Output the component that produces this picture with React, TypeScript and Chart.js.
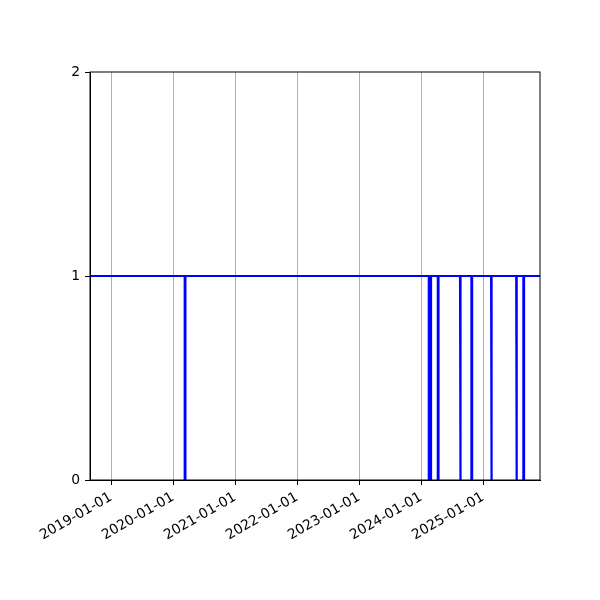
import React, { useEffect, useRef } from "react";
import { Chart, registerables } from "chart.js";

Chart.register(...registerables);

// axis range and yearly ticks
const xStart = "2018-08-30";
const xEnd = "2025-12-02";
const yearTicks = [
  "2019-01-01",
  "2020-01-01",
  "2021-01-01",
  "2022-01-01",
  "2023-01-01",
  "2024-01-01",
  "2025-01-01",
];
const yTicks = [0, 1, 2];

// periods where the status drops from 1 to 0
const dipStarts = [
  "2020-03-10",
  "2024-02-16",
  "2024-04-09",
  "2024-08-18",
  "2024-10-24",
  "2025-02-17",
  "2025-07-15",
  "2025-08-26",
];
const dipEnds = [
  "2020-03-14",
  "2024-02-29",
  "2024-04-13",
  "2024-08-22",
  "2024-10-28",
  "2025-02-21",
  "2025-07-19",
  "2025-08-30",
];
const upValue = 1;
const downValue = 0;

const ts = (s: string) => {
  const [y, m, d] = s.split("-").map(Number);
  return Date.UTC(y, m - 1, d);
};

const fmt = (v: number) => {
  const d = new Date(v);
  const p = (n: number) => String(n).padStart(2, "0");
  return `${d.getUTCFullYear()}-${p(d.getUTCMonth() + 1)}-${p(d.getUTCDate())}`;
};

const buildPoints = () => {
  const pts: { x: number; y: number }[] = [{ x: ts(xStart), y: upValue }];
  dipStarts.forEach((s, i) => {
    pts.push({ x: ts(s), y: upValue });
    pts.push({ x: ts(s), y: downValue });
    pts.push({ x: ts(dipEnds[i]), y: downValue });
    pts.push({ x: ts(dipEnds[i]), y: upValue });
  });
  pts.push({ x: ts(xEnd), y: upValue });
  return pts;
};

const frame = {
  id: "frame",
  afterDraw(chart: any) {
    const { ctx, chartArea } = chart;
    ctx.save();
    ctx.strokeStyle = "#000";
    ctx.lineWidth = 1;
    ctx.strokeRect(chartArea.left, chartArea.top, chartArea.right - chartArea.left, chartArea.bottom - chartArea.top);
    ctx.restore();
  },
};

const App: React.FC = () => {
  const canvasRef = useRef<HTMLCanvasElement | null>(null);
  const chartRef = useRef<Chart | null>(null);

  useEffect(() => {
    document.body.style.margin = "0";
    const ctx = canvasRef.current?.getContext("2d");
    if (!ctx) return;
    if (chartRef.current) chartRef.current.destroy();

    const font = { family: "DejaVu Sans", size: 13.9 };

    chartRef.current = new Chart(ctx, {
      type: "line",
      data: {
        datasets: [
          {
            data: buildPoints(),
            borderColor: "#0000ff",
            borderWidth: 2.2,
            pointRadius: 0,
            tension: 0,
            fill: false,
          },
        ],
      },
      options: {
        animation: false,
        responsive: false,
        maintainAspectRatio: false,
        layout: { padding: { left: 0, top: 72, right: 60, bottom: 0 } },
        plugins: { legend: { display: false }, tooltip: { enabled: false } },
        scales: {
          x: {
            type: "linear",
            min: ts(xStart),
            max: ts(xEnd),
            afterBuildTicks: (axis: any) => {
              axis.ticks = yearTicks.map((t) => ({ value: ts(t) }));
            },
            afterFit: (axis: any) => {
              axis.height = 120;
            },
            ticks: {
              autoSkip: false,
              minRotation: 30,
              maxRotation: 30,
              color: "#000",
              font,
              padding: 4,
              callback: (v: any) => fmt(Number(v)),
            },
            grid: {
              display: true,
              drawOnChartArea: true,
              color: "#b0b0b0",
              lineWidth: 1,
              drawTicks: true,
              tickLength: 5,
              tickColor: "#000",
            },
            border: { display: true, color: "#000", width: 1 },
          },
          y: {
            type: "linear",
            min: 0,
            max: 2,
            afterBuildTicks: (axis: any) => {
              axis.ticks = yTicks.map((v) => ({ value: v }));
            },
            afterFit: (axis: any) => {
              axis.width = 90;
            },
            ticks: { color: "#000", font, padding: 5 },
            grid: {
              display: true,
              drawOnChartArea: false,
              drawTicks: true,
              tickLength: 5,
              tickColor: "#000",
            },
            border: { display: true, color: "#000", width: 1 },
          },
        },
      },
      plugins: [frame],
    } as any);

    return () => {
      if (chartRef.current) {
        chartRef.current.destroy();
        chartRef.current = null;
      }
    };
  }, []);

  return (
    <div style={{ width: 600, height: 600, background: "#fff" }}>
      <canvas ref={canvasRef} width={600} height={600}></canvas>
    </div>
  );
};

export default App;
